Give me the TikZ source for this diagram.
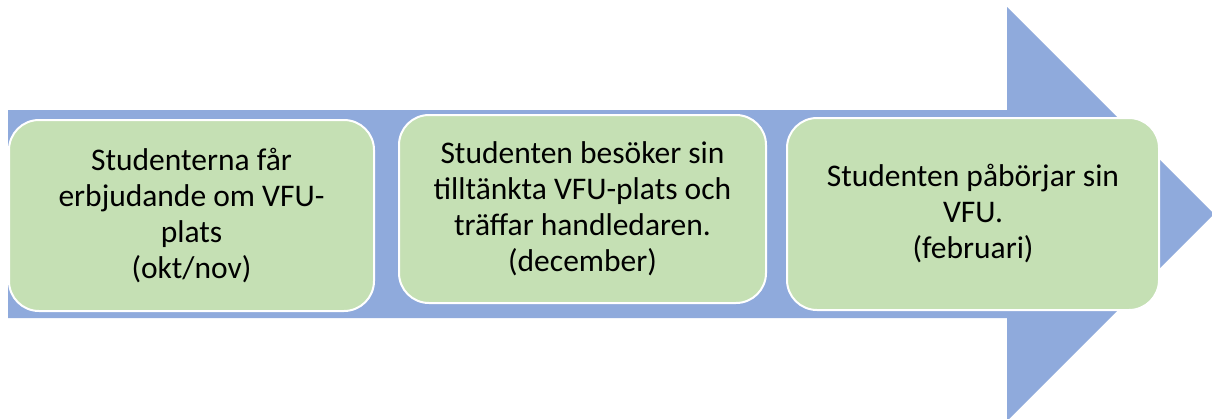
\documentclass[tikz,border=0pt]{standalone}
\usepackage{fontspec}
\setmainfont{Carlito}
\definecolor{arrowblue}{HTML}{8FAADC}
\definecolor{boxgreen}{HTML}{C5E0B4}
\begin{document}
\begin{tikzpicture}[x=1pt,y=-1pt,
  stepbox/.style={draw=white, line width=2pt, fill=boxgreen, rounded corners=30pt,
    align=center, inner sep=0pt, font=\fontsize{31.5}{36}\selectfont, anchor=north west}]
\useasboundingbox (0,0) rectangle (1212,418);
\fill[arrowblue] (8,110) -- (1007,110) -- (1007,7) -- (1214,214) -- (1007,421) -- (1007,318) -- (8,318) -- cycle;
\node[stepbox, minimum width=365pt, minimum height=191pt] (b1) at (8,119)
  {Studenterna får\\erbjudande om VFU-\\plats\\(okt/nov)};
\node[stepbox, minimum width=367pt, minimum height=188pt] (b2) at (398,114)
  {Studenten besöker sin\\tilltänkta VFU-plats och\\träffar handledaren.\\(december)};
\node[stepbox, minimum width=372pt, minimum height=192pt] (b3) at (786,117)
  {Studenten påbörjar sin\\VFU.\\(februari)};
\end{tikzpicture}
\end{document}
